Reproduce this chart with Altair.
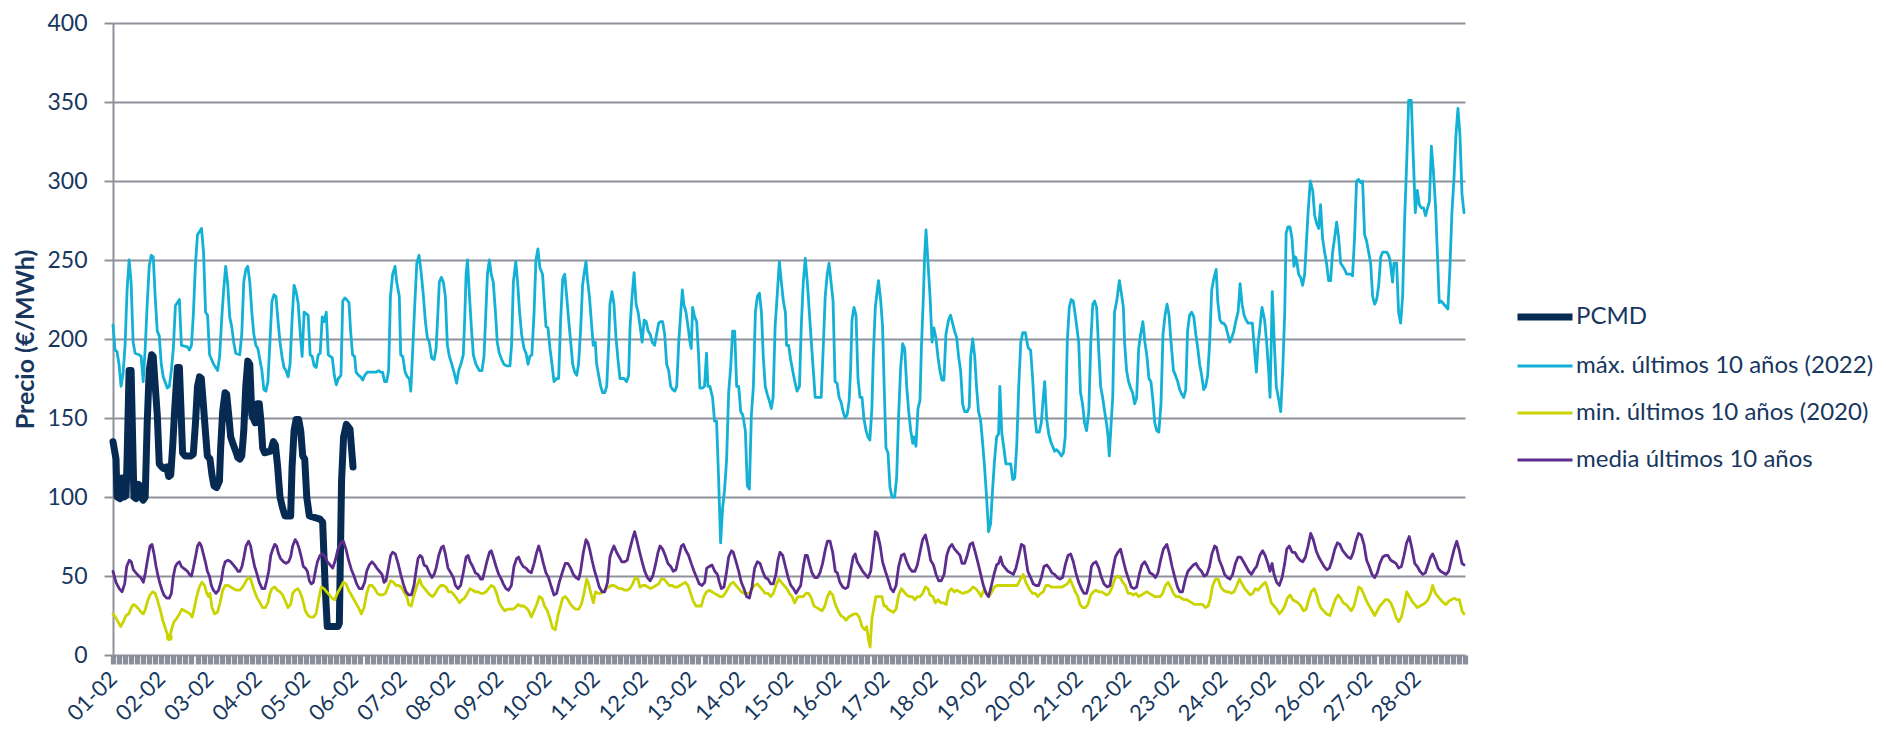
import json
import altair as alt
import pandas as pd

NAVY = "#17375e"
GRID = "#8e929b"
BAND = "#8b8f9b"
FONT = "Lato"

SERIES = ["PCMD", "máx. últimos 10 años (2022)", "min. últimos 10 años (2020)", "media últimos 10 años"]
COLORS = ["#062a52", "#12b1d5", "#c9d400", "#5c2d8c"]
WIDTHS = [7.0, 2.8, 2.8, 2.8]
DAY_LABELS = ["01-02", "02-02", "03-02", "04-02", "05-02", "06-02", "07-02", "08-02", "09-02", "10-02",
              "11-02", "12-02", "13-02", "14-02", "15-02", "16-02", "17-02", "18-02", "19-02", "20-02",
              "21-02", "22-02", "23-02", "24-02", "25-02", "26-02", "27-02", "28-02"]
Y_TICKS = [0, 50, 100, 150, 200, 250, 300, 350, 400]

# (hour since 01-02 00:00, price)
pcmd = [(0,135),(1.5,124),(2,100),(3.5,99),(4.5,112),(5.5,100),(6.5,101),(7,124),(8,180),(9,180),(10.4,100),(11.4,99),(12.8,108),(13.8,100),(15,98),(16,100),(17,147),(18,180),(19.2,190),(20,189),(21,170),(22,152),(23,121),(24.2,119),(25.3,118),(26.7,119),(27.7,113),(28.7,114),(29.7,133),(30.6,154),(32,182),(33,182),(34.6,128),(35.8,126),(38.6,126),(39.9,127),(41,147),(42,170),(43,176),(43.9,175),(44.9,159),(45.9,142),(46.9,126),(48.2,124),(49.2,114),(50.2,107),(51.5,106),(52.9,110),(53.5,131),(54.5,154),(55.7,166),(56.5,165),(57.5,152),(58.5,138),(59.8,133),(61,129),(62,125),(63,124),(64,126),(65,142),(66,170),(67,186),(68,184),(69,152),(70.7,147),(71.7,159),(72.7,159),(73.6,147),(74.4,131),(75.4,128),(78.4,129),(79.7,135),(80.7,133),(81.7,121),(83,100),(84.3,93),(85.5,88),(88.3,88),(89,119),(90,142),(91,149),(92.3,149),(93.3,142),(94.3,126),(95.3,124),(96.3,100),(97.6,88),(100.4,87),(102.9,86),(104.2,84),(105.5,42),(106.5,18),(111.8,18),(112.5,20),(113.6,110),(114.6,138),(116,146),(117.8,143),(119.3,119)]

maximo = [(0,209),(1,193),(2,192),(3,184),(4,170),(5,178),(6,196),(7,231),(8,250),(9,236),(10,198),(11,191),(13,190),(14,189),(15,173),(16,194),(17,222),(18,246),(19,253),(20,252),(21,226),(22,205),(23,202),(24,184),(25,176),(27,169),(28,170),(29,180),(30,194),(31,221),(33,225),(34,196),(37,195),(38,193),(39,196),(40,217),(41,248),(42,266),(44,270),(45,255),(46,217),(47,215),(48,190),(50,184),(52,180),(53,189),(54,212),(55,231),(56,246),(57,235),(58,214),(59,208),(60,198),(61,191),(63,190),(64,203),(65,236),(66,244),(67,246),(68,236),(69,217),(70,203),(71,196),(72,194),(73,187),(74,180),(75,168),(76,167),(77,173),(78,198),(79,224),(80,228),(81,227),(82,212),(83,198),(84,189),(85,182),(86,180),(87,176),(88,184),(89,212),(90,234),(91,230),(92,223),(93,205),(94,189),(95,217),(97,215),(98,190),(99,189),(100,183),(101,182),(102,190),(103,191),(104,214),(105,211),(106,217),(107,190),(109,188),(110,177),(111,171),(112,175),
    (113.3,177),(114.2,224),(115.2,226),(116.1,225),(117.3,223),(118.1,205),(119.1,190),(120.1,189),(120.8,179),(122.1,177),(123.1,176),(124.1,174),(125.1,177),(126.4,179),(128.5,179),(130.7,179),(132,180),(133,179),(134,179),(135,173),(136,173),(137,180),(137.9,227),(139,241),(140.2,246),(141,236),(142.3,227),(143,190),(144,189),(145.2,179),(146.3,176),(147.3,175),(148,167),(149,194),(150,222),(151,248),(152.1,253),(153.1,243),(154.3,227),(155.2,212),(156.2,201),(157.2,198),(158.4,188),(159.6,187),(160.6,194),(161.5,217),(162.2,236),(163.2,239),(164.2,236),(165.2,227),(166.2,196),(167.2,189),(168.4,184),(169.5,179),(170.8,172),(171.8,180),(172.9,184),(174.1,190),(174.8,212),(175.5,241),(176.2,250),(177.2,227),(178.1,208),(179.1,190),(180.4,184),(182.1,180),(183.4,180),(184.4,189),(185.1,210),(186.1,241),(187.1,250),(188,241),(189,236),(190.1,217),(191,198),(192,191),(193.2,187),(194.3,184),(195.6,183),(197.3,183),(198.1,196),(199,236),(200.2,249),(201.1,236),(202.1,217),(203.1,203),(204.3,194),(205.3,191),(206.3,184),(207.2,189),(208.2,190),(209.3,217),(210.2,250),(211.2,257),(212.2,245),(213.5,241),(214.2,227),(215.2,208),(216.2,207),(217.2,194),(218.2,184),(219.2,173),(220.5,175),(221.5,175),(222.5,212),(223.5,238),(224.5,241),
    (225.5,227),(226.5,212),(227.5,198),(228.5,184),(229.5,179),(230.5,177),(231.4,184),(232.4,205),(233.4,234),(234.1,241),(235.1,249),(235.8,238),(236.8,227),(237.7,212),(238.7,196),(239.7,198),(240.4,184),(241.4,177),(242.4,170),(243.4,166),(244.4,166),(245.4,170),(246.4,198),(247,222),(248,230),(249,222),(250,201),(251,187),(252,175),(254,175),(255.3,173),(256.3,177),(257,208),(258,227),(259,242),(260,222),(261,217),(262,208),(263,198),(264,212),(265,211),(266,205),(267,203),(268,198),(269.2,196),(270.2,203),(271.2,210),(272.2,211),(273.2,211),(274.2,203),(275.2,184),(276.2,180),(277.2,170),(278.2,168),(279.2,167),(280.2,170),(281.2,198),(282.2,217),(283,231),(283.7,222),(284.8,217),(285.8,208),(286.8,198),(287.4,194),(288.1,220),(289.1,214),(290.1,211),(291.1,189),(291.7,169),(293,169),(294,170),(295,191),(295.7,170),(296.7,170),(298,163),(299,148),(300,148),(301,112),(302,71),(303,93),(304,105),(305,124),(306,166),(307,182),(308,205),(309,205),(310,170),(311,170),(312,154),(313,152),(314.3,142),(315.3,107),(316.3,105),(317.3,152),(318.3,170),(319.3,217),(320.3,227),(321.3,229),(322.3,217),(323.2,189),(324.2,170),(325.2,165),(326.2,161),(327.2,156),(328.1,163),(329.1,208),(330.2,229),(331.2,249),(332.2,236),(333.2,224),(334.2,217),(334.8,196),(335.8,196),(336.8,187),(337.8,180),(338.9,173),(340,167),
    (341.2,170),(342.1,208),(343.1,236),(344.1,251),(345.1,236),(346.1,217),(347.1,198),(348.1,180),(349,163),(350.4,163),(352,163),(353,194),(354,227),(355,241),(355.9,248),(356.9,236),(357.9,224),(358.9,173),(359.9,172),(360.9,163),(361.9,160),(362.9,154),(363.9,150),(364.9,152),(365.9,161),(366.6,180),(367.3,212),(368.3,220),(369.3,215),(370.3,175),(371.3,163),(372.3,163),(373.3,149),(374.3,142),(375.3,138),(376.2,136),(377.2,156),(377.9,189),(378.9,220),(379.9,231),(380.5,237),(381.6,224),(382.5,208),(383.2,175),(384.2,131),(385.2,128),(386.2,106),(387.2,100),(388.5,100),(389.5,112),(390.5,152),(391.5,182),(392.5,197),(393.5,194),(394.5,170),(395.5,154),(396.5,142),(397.5,134),(398.1,138),(399.1,132),(400.1,156),(401.1,161),(401.8,194),(402.8,227),(403.4,252),(404.1,269),(405.1,248),(406.1,227),(407.1,198),(408,207),(409,201),(410,189),(411,180),(412,174),(413,174),(414,203),(415.3,212),(416.3,215),(417.3,210),(418.3,205),(419.3,201),(420.3,189),(421.3,180),(422.3,159),(423.3,154),(424.6,154),(425.6,157),(426.3,189),(427.3,200),(428.3,189),(429.2,170),(430.2,154),(431.2,149),(432.2,135),(433.2,119),(434.2,100),(435.2,78),(436.2,83),(437.2,105),(438.2,124),(439.2,138),(440.2,140),(440.8,170),(441.8,140),(442.8,131),(443.8,121),(444.8,121),(446.2,121),(447.2,111),(448.2,112),(449.2,133),(450.2,170),(451.2,198),(452.2,204),(453.5,204),(454.6,196),
    (455.1,194),(456.1,193),(457.1,175),(458.1,152),(459.1,141),(460.4,141),(461.4,147),(462.4,163),(463.1,173),(464.1,149),(465.1,140),(466.1,135),(467.1,132),(468,129),(469,130),(470.4,128),(471.4,126),(472.4,128),(473.3,138),(474.3,198),(475.3,220),(476.3,225),(477.3,224),(478.3,215),(479.3,205),(480,198),(480.9,166),(481.9,159),(482.9,147),(483.9,142),(485,154),(486,198),(487,222),(487.9,224),(488.9,220),(489.9,194),(490.9,170),(491.9,163),(492.9,154),(494,145),(494.6,138),(495.2,126),(495.9,142),(496.9,163),(497.8,217),(498.9,224),(500.2,237),(501.2,229),(502.2,220),(502.8,198),(503.8,180),(504.8,173),(505.8,169),(506.8,166),(507.8,159),(508.8,163),(509.8,194),(510.8,203),(511.9,211),(512.9,198),(513.9,189),(514.9,175),(515.9,173),(516.9,161),(517.8,147),(518.8,142),(519.8,141),(520.9,159),(521.9,203),(522.9,215),(523.9,222),(524.9,215),(525.9,198),(527.1,180),(528.1,177),(529.2,173),(530.2,168),(531.2,165),(532.2,163),(533.2,168),(534.1,205),(535.1,215),(536.1,217),(537.2,214),(538.2,203),(539.2,194),(540.1,184),(541.1,177),(542.1,168),(543.1,170),(544.1,177),(545.1,198),(546.1,231),(547.1,238),(548.3,244),(549.1,224),(550.2,212),(551.2,210),(552.1,210),(553.1,208),(554.1,203),(555.1,198),(556.1,201),(557.1,205),(558.2,212),(559.2,217),(559.8,227),(560.2,235),(561.2,222),(562.2,215),(563.2,212),(564.2,210),(565.3,210),(566.3,210),(567.3,194),(568.3,179),(569.1,196),
    (571.1,220),(572.4,212),(573.4,198),(574.4,180),(575.1,163),(575.7,198),(576.2,230),(577.2,198),(578.2,170),(579.5,161),(580.4,154),(581.4,180),(582.4,217),(583.1,267),(584,271),(585,271),(586,264),(587,246),(587.7,252),(588.3,250),(589.3,241),(590.3,239),(591.3,234),(592.3,241),(593,257),(594,280),(595.1,300),(596.3,294),(597.3,278),(598.3,273),(599.3,270),(600.2,285),(601.2,264),(602.2,255),(603.2,248),(604.2,237),(605.2,237),(606.2,255),(607.2,264),(608.2,274),(609.2,264),(610.2,248),(611.2,246),(612.2,244),(613.2,241),(614.2,241),(615.1,241),(616.1,240),(617.1,264),(618.1,300),(619.1,301),(620.1,299),(621.1,300),(622.1,266),(623.1,262),(624.1,255),(625.1,248),(626.1,227),(627.1,222),(628.1,225),(629.1,234),(630.1,252),(631.1,255),(633.1,255),(634,253),(634.7,250),(636,236),(636.7,248),(638,248),(639,217),(640,210),(641,227),(642,276),(643,311),(644,351),(645.3,351),(646.3,315),(647.3,280),(648.3,294),(649.3,285),(650.3,283),(651.4,283),(652.4,278),(653.4,283),(654.3,287),(655.3,322),(656.3,306),(657.4,283),(658.4,250),(659.2,223),(660.2,224),(661.5,222),(663.5,219),(664.5,245),(665.5,280),(666.5,301),(667.5,329),(668.5,346),(669.5,329),(670.5,292),(671.5,280)]

minimo = [(0,26),(1.2,24),(2.5,21),(3.8,18),(5.1,21),(6.5,25),(7.8,26),(9.1,30),(10.1,32),(11.4,31),(12.8,29),(14.1,27),(15.1,26),(16.1,29),(17.4,35),(18.4,38),(19.7,40),(21,39),(22,35),(23.4,29),(24.7,22),(26,17),(27.3,12),(28.3,12),(29.3,17),(30.3,21),(31.6,23),(33,26),(34.3,29),(35.6,28),(37,27),(38.3,26),(39.3,24),(40.3,29),(41.6,37),(42.9,43),(44.2,46),(45.5,44),(46.6,39),(47.5,37),(48.2,39),(49.2,30),(50.5,26),(51.9,27),(53.2,33),(54.5,41),(55.8,44),(57.2,44),(58.5,43),(59.8,42),(61.5,41),(63.1,41),(64.4,43),(65.8,46),(67.1,49),(68.4,48),(69.4,44),(70.4,40),(71.7,36),(73.1,33),(74.4,30),(75.7,30),(77,33),(78,39),(79,42),(80.4,43),(81.7,41),(83,40),(84.3,38),(85.7,34),(87,30),(88.3,32),(89.3,39),(90.6,41),(91.9,42),(92.9,40),(94.3,35),(95.6,28),(96.9,25),(98.2,24),(99.6,24),(100.9,26),(102.2,35),(103.5,43),(104.9,42),(106.2,40),(107.5,38),(108.8,36),(110.2,35),(111.5,39),(112.8,42),(114.5,46),(115.8,45),(117.1,41),(118.5,38),(119.8,35),(121.1,32),(122.4,29),
    (123.4,26),(124.8,30),(126.1,39),(127.4,44),(128.7,44),(130.1,42),(131.4,39),(132.7,38),(134,38),(135.4,39),(136.7,43),(138,47),(139.4,46),(140.7,44),(142,44),(143.3,43),(144.6,40),(146,37),(147,32),(148.3,31),(149.6,38),(150.9,43),(152.3,48),(153.6,44),(154.9,42),(156.2,40),(157.5,38),(158.9,37),(160.2,39),(161.5,42),(162.9,44),(164.2,44),(165.5,43),(166.8,40),(168.2,40),(169.5,38),(170.8,36),(172.2,33),(173.5,35),(174.8,36),(176.1,39),(177.4,42),(178.8,41),(180.1,40),(181.4,40),(182.7,39),(184.1,39),(185.4,40),(186.7,42),(188,44),(189.4,43),(190.7,39),(192,33),(193.4,30),(194.7,28),(196,29),(198.7,29),(200,30),(201.3,32),(202.6,31),(204,31),(205.3,30),(206.6,28),(207.9,24),(209.3,28),(210.6,32),(211.9,37),(213.2,36),(214.5,31),(215.9,28),(217.2,23),(218.5,17),(219.8,16),(221.2,25),
    (223.5,36),(224.8,37),(226.1,35),(227.5,32),(228.8,30),(230.1,29),(231.5,29),(232.8,32),(234.1,39),(235.4,48),(236.4,45),(237.5,39),(238.8,33),(239.8,40),(241.1,39),(242.4,39),(243.7,40),(245,42),(246.4,43),(247.7,44),(249,44),(250.3,43),(251.6,42),(253,42),(254.3,41),(255.6,41),(256.9,42),(258.3,45),(259.6,49),(260.9,48),(261.9,43),(263.3,44),(264.6,44),(265.9,43),(267.2,42),(268.6,43),(269.9,44),(271.2,45),(272.5,48),(273.9,48),(275.2,46),(276.5,44),(277.9,44),(279.2,43),(280.5,43),(281.8,44),(283.2,45),(284.5,46),(285.8,44),(287.1,39),(288.4,34),(289.8,31),(292.4,31),(293.7,37),(295.1,40),(296.4,41),(297.7,40),(299,39),(300.4,38),(301.7,37),(303,37),(304.3,39),(305.6,42),(307,45),(308.3,46),(309.6,44),(311,42),(312.3,40),(313.6,39),(316.3,39),(317.6,42),(318.9,44),(320.3,45),(321.6,43),(322.9,41),(324.2,39),(325.6,39),(326.9,37),(328.2,39),(329.5,44),(330.9,48),(332.2,46),(333.5,44),(334.9,42),(336.2,39),(337.5,37),(338.8,33),
    (340.5,37),(341.8,37),(343.1,37),(344.4,39),(345.8,39),(347.1,36),(348.4,31),(349.8,30),(351.1,29),(352.5,28),(353.8,31),(355.1,37),(356.4,40),(357.7,38),(359,32),(360.4,28),(361.7,25),(363,24),(364.3,22),(365.6,24),(366.9,25),(368.3,26),(369.6,26),(370.9,24),(372.3,18),(373.6,16),(374.6,18),(375.6,9),(376.3,5),(377.2,23),(378.2,30),(379.2,37),(382.2,37),(383.2,31),(384.2,31),(385.2,29),(386.6,28),(387.9,27),(389.2,29),(390.5,38),(391.9,42),(393.2,40),(394.5,38),(395.9,37),(397.2,37),(398.6,35),(399.8,37),(401.1,37),(402.4,39),(403.8,43),(405.1,42),(406.1,38),(407.5,37),(408.8,33),(410.1,35),(411.5,33),(412.8,33),(414.1,32),(415.4,40),(416.7,42),(418.1,40),(419.4,41),(420.8,40),(422.1,39),(424.8,40),(426.1,41),(427.4,43),(428.8,42),(430.1,40),(431.5,37),(432.8,41),(434.1,39),(435.4,37),(436.8,40),(438.1,43),(439.4,44),(449.4,44),(451.1,48),(452.4,51),(453.7,46),
    (455.8,41),(457.1,39),(458.4,39),(459.7,37),(461.1,39),(462.4,40),(463.7,44),(465.1,44),(466.4,43),(471.7,43),(473,44),(474.4,45),(475.7,48),(477,44),(478.3,40),(479.6,37),(480.6,32),(482,30),(483.3,30),(484.6,32),(486,38),(487.3,40),(488.6,41),(489.9,40),(491.3,40),(492.6,39),(493.9,38),(495.2,39),(496.6,43),(497.9,48),(499.2,50),(500.5,49),(501.9,46),(503.2,44),(504.5,39),(505.9,39),(507.2,38),(508.5,39),(509.8,37),(511.2,38),(512.5,39),(513.8,40),(515.1,39),(516.5,38),(517.8,37),(520.4,37),(521.7,39),(523.1,44),(524.4,46),(525.7,43),(527.1,39),(528.4,37),(529.7,37),(531,36),(532.3,35),(533.7,35),(535,34),(536.3,33),(537.6,32),(541.6,32),(543,30),(544.3,31),(545.3,35),(546.6,44),(548,48),(549.3,48),(550.6,43),(551.9,41),(553.3,40),(554.6,40),(555.9,39),(557.2,40),(558.6,44),(559.9,48),(561.2,45),(562.5,42),(563.9,40),(565.2,38),(566.5,39),(567.8,42),
    (569.1,41),(570.4,43),(571.8,45),(572.8,46),(573.7,43),(574.7,38),(575.7,33),(577.1,31),(578.4,29),(579.7,26),(581.1,28),(582.4,31),(583.7,36),(585.1,38),(586.4,35),(587.7,34),(589,33),(590.4,31),(591.7,28),(593.1,29),(594.3,35),(595.6,40),(597,42),(598.3,38),(599.3,33),(600.3,30),(601.7,28),(603.2,26),(604.9,25),(606.2,30),(607.5,35),(608.9,38),(610.2,36),(611.5,33),(612.9,32),(614.2,30),(615.5,28),(616.8,31),(618.2,38),(619.1,43),(620.4,42),(621.8,38),(623.1,34),(624.4,31),(625.8,28),(627.1,25),(628.4,28),(629.7,31),(631.1,33),(632.4,35),(633.7,35),(635.1,33),(636.4,29),(637.7,24),(639,21),(640.4,24),(641.7,31),(643,40),(644.3,37),(645.7,34),(647,32),(648.3,30),(649.6,31),(651,32),(652.3,33),(653.6,35),(654.9,39),(655.9,44),(657.3,39),(658.6,37),(659.9,35),(661.3,33),(662.6,32),(663.9,34),(665.2,35),(666.6,36),(667.9,35),(669.2,35),(670.5,28),(671.5,26)]

media = [(0,53),(1.5,46),(3.1,42),(4.5,40),(5.8,45),(6.8,56),(8.1,60),(9.1,59),(10.1,54),(11.4,52),(12.8,50),(13.8,49),(15.1,46),(16.1,52),(17.4,62),(18.4,69),(19.4,70),(20.4,64),(21.4,56),(22.4,50),(23.4,45),(24.4,41),(25.3,38),(26.7,36),(28,36),(29,39),(30,50),(31,56),(32,58),(33,59),(34,56),(35,55),(36,54),(37,53),(38,51),(39,50),(39.9,55),(41,62),(42,69),(43,71),(43.9,69),(44.9,64),(45.9,59),(46.9,53),(47.9,50),(48.9,44),(49.9,41),(51.2,39),(52.5,41),(53.8,47),(54.8,55),(55.8,59),(57.2,60),(58.5,59),(59.8,57),(61.1,55),(62.1,53),(63.1,53),(64.1,56),(65.1,62),(66.1,69),(67.4,72),(68.4,69),(69.4,62),(70.4,56),(71.4,52),(72.7,46),(74.1,42),(75.4,42),(76.4,47),(77.4,53),(78.4,63),(79.4,67),(80.4,70),(81.3,69),(82.3,64),(83.3,61),(84.7,59),(86,58),(87.3,59),(88.3,62),(89.3,69),(90.6,73),(91.6,71),(92.6,67),(93.6,62),(94.6,56),(95.6,55),(96.6,53),(97.6,47),(98.6,45),(99.6,46),(100.6,53),(101.6,59),(102.9,63),(104.2,64),(105.5,62),(106.5,59),(107.9,57),(109.2,55),(110.5,60),(111.8,67),(113.2,71),(114.5,72),(115.8,67),(117.1,60),(118.5,54),(119.8,50),(121.1,45),(122.4,42),
    (123.8,42),(125.1,46),(126.1,53),(127.4,57),(128.7,59),(130.1,57),(131.1,55),(132.4,53),(133.7,51),(134.7,46),(135.7,47),(137,56),(138,63),(139,65),(140.3,64),(141.7,58),(143,51),(144.3,45),(145.6,40),(147,38),(148.3,38),(149.6,44),(150.6,53),(151.6,61),(152.6,63),(153.6,62),(154.6,57),(155.9,56),(157.2,52),(158.5,49),(159.6,51),(160.6,55),(161.9,63),(163.2,68),(164.2,69),(165.2,64),(166.5,55),(167.9,52),(169.2,49),(170.2,44),(171.5,42),(172.8,44),(174.1,52),(175.5,62),(176.5,63),(177.5,59),(178.8,56),(180.1,52),(181.4,51),(182.8,48),(183.7,48),(184.7,53),(185.8,59),(187.1,65),(188,66),(189,62),(190.4,56),(191.7,51),(193,48),(194,45),(195.3,42),(196.6,41),(198,44),(199.3,56),(200.6,61),(201.6,62),(202.9,58),(203.9,56),(205.3,55),(206.6,53),(207.9,52),(209.3,58),(210.6,65),(211.6,69),(212.6,65),(213.9,58),(215.2,52),(216.5,49),(217.9,43),(219.2,38),(220.5,39),(221.8,46),
    (223.5,53),(224.8,58),(226.1,58),(227.5,55),(228.8,51),(230.1,49),(231.5,48),(232.4,53),(233.8,65),(235.1,73),(236.1,71),(237.1,66),(238.1,60),(239.4,53),(240.4,49),(241.7,43),(243.1,40),(244.4,40),(245.8,46),(247,62),(248,66),(249,69),(250.3,65),(251.6,62),(252.9,59),(254.3,59),(255.6,60),(256.9,67),(258.3,74),(259.3,78),(260.3,73),(261.6,66),(263,59),(264.3,53),(265.6,49),(267,47),(268.3,50),(269.6,57),(270.9,65),(271.9,69),(273.2,67),(274.5,63),(275.8,58),(277.2,56),(278.5,53),(279.8,54),(281.2,62),(282.5,69),(283.5,70),(284.8,66),(286.1,63),(287.4,58),(288.8,53),(290.1,49),(291.4,45),(292.8,44),(294.1,46),(295.1,55),(296.4,56),(297.7,57),(299.1,53),(300.4,51),(301.4,46),(302.4,42),(303.7,43),(305,53),(306,62),(307.4,66),(308.3,65),(309.7,59),(311,53),(312.3,46),(313.6,42),(314.9,37),(316.3,36),(317.6,43),(318.9,55),(320.3,59),(321.6,58),(322.9,53),(324.2,49),(325.6,48),(326.9,45),(328.2,45),(329.5,51),(330.5,60),(331.5,65),(332.9,63),(334.2,56),(335.6,49),(336.9,44),(338.2,42),(339.5,39),
    (341.8,44),(343.1,56),(344.1,63),(345.1,63),(346.1,58),(347.4,52),(348.8,49),(350.1,49),(351.4,52),(352.7,58),(354.1,67),(355.1,72),(356.4,72),(357.7,65),(359,53),(360,52),(361.3,46),(362.7,43),(364,42),(365.3,43),(366.6,53),(367.9,62),(368.9,64),(369.9,59),(371.3,56),(372.6,53),(373.9,51),(375.3,49),(376.6,53),(377.9,67),(378.9,78),(379.9,77),(381.2,70),(382.5,59),(383.9,53),(385.2,48),(386.6,42),(387.9,40),(389.2,44),(390.5,56),(391.9,63),(393.2,64),(394.5,59),(395.9,55),(397.2,53),(398.6,53),(399.8,57),(401.1,65),(402.4,73),(403.8,76),(405.1,69),(406.4,60),(407.8,57),(409.1,51),(410.4,47),(411.7,47),(413.1,51),(414.4,63),(415.7,68),(417,70),(418.3,67),(419.7,65),(421,63),(422,58),(423.3,58),(424.6,63),(426,70),(427.3,71),(428.6,65),(430,58),(431.3,51),(432.6,44),(434,39),(435.2,37),(436.6,44),(437.9,51),(439.2,57),(440.2,58),(441.2,62),(442.2,57),(443.5,55),(444.8,53),(446.2,52),(447.5,51),(448.8,55),(450.1,62),(451.5,70),(452.8,69),
    (454.7,53),(456.1,49),(457.4,45),(458.7,44),(460.1,44),(461.4,49),(462.7,56),(464.1,57),(465.4,55),(466.7,52),(468,51),(469.4,49),(470.7,48),(472,49),(473.3,57),(474.7,63),(476,64),(477.3,59),(478.6,52),(480,46),(481.3,42),(482.6,39),(483.9,39),(485.3,46),(486.3,56),(487.3,58),(488.6,59),(490,55),(491.3,49),(492.6,45),(494.2,43),(495.5,44),(496.8,53),(498.2,62),(499.5,65),(500.8,67),(502.1,60),(503.5,53),(504.8,48),(506.1,43),(507.5,42),(508.8,43),(510.1,51),(511.4,57),(512.8,59),(514.1,56),(515.4,52),(516.8,51),(518.1,49),(519.4,52),(520.7,60),(522.1,67),(523.8,70),(525.1,64),(526.4,56),(527.8,49),(529.1,43),(530.3,40),(531.6,40),(533,48),(534.3,53),(535.6,55),(537,57),(538.3,58),(539.6,55),(541,53),(542.3,50),(543.7,51),(545,56),(546.2,64),(547.6,69),(548.5,68),(549.9,60),(551.2,56),(552.5,51),(553.9,49),(555.2,48),(556.5,51),(557.9,58),(559.2,62),(560.5,62),(561.9,59),(563.2,56),(564.5,53),(565.8,51),(567.2,54),
    (568.4,56),(570,63),(571.4,66),(572.7,63),(574,58),(575.1,53),(576.1,58),(577.1,51),(578.4,46),(579.7,44),(581.1,49),(582.4,58),(583.4,67),(584.7,69),(586.1,65),(587.4,65),(588.7,62),(590,60),(591.4,59),(592.7,62),(594,69),(595.3,77),(596.6,73),(598,66),(599.3,62),(600.6,59),(602,56),(603.3,54),(604.6,55),(605.9,60),(607.3,67),(608.6,71),(609.8,70),(611.2,66),(612.5,64),(613.8,62),(615.2,61),(616.5,65),(617.8,72),(619.1,77),(620.4,76),(621.8,70),(623.1,60),(624.4,56),(625.8,51),(627.1,49),(628.4,52),(629.7,58),(631.1,62),(632.4,63),(633.7,63),(635.1,60),(636.4,59),(637.7,58),(639,55),(640.4,56),(641.7,63),(643,71),(644.3,75),(645.7,67),(647,58),(648.3,56),(649.6,53),(651,51),(652.3,52),(653.6,57),(654.9,62),(655.9,64),(657.3,60),(658.6,55),(659.9,53),(661.2,52),(662.6,51),(663.9,53),(665.2,60),(666.6,67),(667.9,72),(669.2,66),(670.5,58),(671.5,57)]

min_marker = [(28, 11)]

frames = []
for name, pts in zip(SERIES, [pcmd, maximo, minimo, media]):
    frames.append(pd.DataFrame(pts, columns=["hora", "precio"]).assign(serie=name))
df = pd.concat(frames, ignore_index=True)
df_marker = pd.DataFrame(min_marker, columns=["hora", "precio"]).assign(serie=SERIES[2])

label_expr = ("datum.value % 24 == 0 && datum.value < 672 ? "
              + json.dumps(DAY_LABELS) + "[datum.value / 24] : ''")

x_enc = alt.X("hora:Q", scale=alt.Scale(domain=[0, 672], nice=False, zero=False),
              axis=alt.Axis(values=list(range(0, 673, 3)), labelExpr=label_expr, labelOverlap=False,
                            labelAngle=315, labelAlign="right", labelBaseline="middle", labelPadding=11,
                            labelFont=FONT, labelFontSize=22, labelColor=NAVY, labelBound=False, labelFlush=False,
                            ticks=True, tickSize=9, tickWidth=5.2, tickColor=BAND, domain=False, grid=False,
                            title=None))
y_enc = alt.Y("precio:Q", scale=alt.Scale(domain=[0, 400], nice=False),
              axis=alt.Axis(values=Y_TICKS, grid=True, gridColor=GRID, gridWidth=2,
                            domain=True, domainColor=GRID, domainWidth=2,
                            ticks=True, tickSize=9, tickColor=GRID, tickWidth=2,
                            labelFont=FONT, labelFontSize=23, labelColor=NAVY, labelPadding=17,
                            title="Precio (€/MWh)", titleFont=FONT, titleFontSize=25, titleFontWeight="bold",
                            titleColor=NAVY, titleX=-88, titleY=316, titleAlign="center", titleBaseline="middle"))

legend = alt.Legend(title=None, orient="none", legendX=1401, legendY=263, symbolType="stroke",
                    symbolSize=3025, rowPadding=6, padding=0, labelOffset=0, labelLimit=600,
                    labelFont=FONT, labelFontSize=24, labelColor=NAVY)
color_enc = alt.Color("serie:N", scale=alt.Scale(domain=SERIES, range=COLORS), legend=legend)
width_enc = alt.StrokeWidth("serie:N", scale=alt.Scale(type="ordinal", domain=SERIES, range=WIDTHS), legend=legend)

layers = []
for name in SERIES:
    layers.append(
        alt.Chart(df).transform_filter(alt.datum.serie == name)
        .mark_line(strokeJoin="round", strokeCap="round")
        .encode(x=x_enc, y=y_enc, color=color_enc, strokeWidth=width_enc, order=alt.Order("hora:Q"))
    )
marker = alt.Chart(df_marker).mark_circle(size=45, opacity=1, color=COLORS[2]).encode(x=x_enc, y=y_enc)

chart = alt.layer(*layers, marker).properties(
    width=1352, height=632,
    padding={"left": 105, "top": 15, "right": 413, "bottom": 71},
    autosize=alt.AutoSizeParams(type="none"),
    background="white",
).configure_view(stroke=None)

chart.save("out.html", embed_options={"renderer": "svg", "actions": False})
